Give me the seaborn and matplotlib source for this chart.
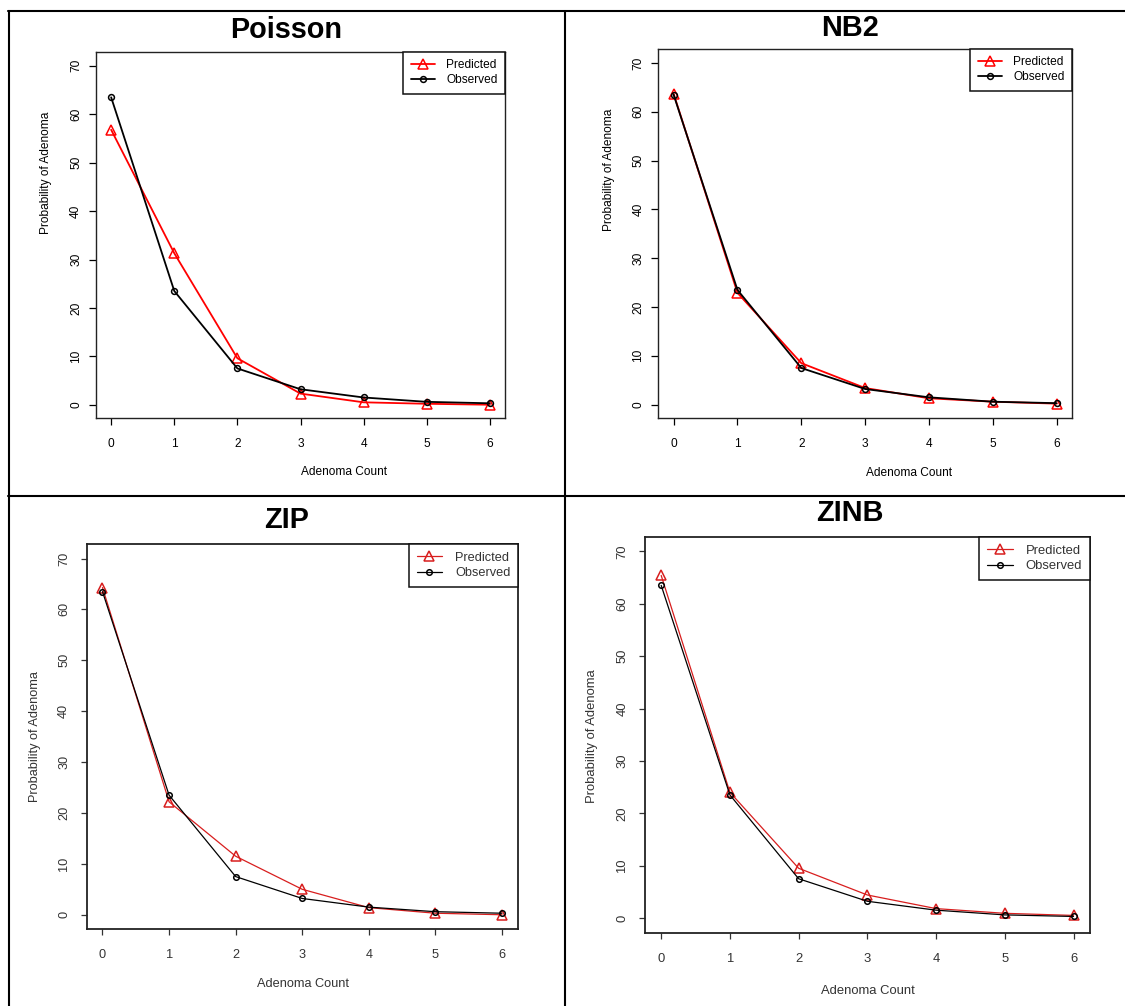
import matplotlib
matplotlib.use("Agg")
import matplotlib.pyplot as plt
from matplotlib.lines import Line2D
import seaborn as sns
import pandas as pd

sns.set_style("white")
plt.rcParams["font.family"] = ["Liberation Sans", "DejaVu Sans"]

# ---------------- data ----------------
counts = [0, 1, 2, 3, 4, 5, 6]
observed = [63.5, 23.5, 7.5, 3.2, 1.5, 0.6, 0.3]
poisson_pred = [56.8, 31.3, 9.6, 2.3, 0.5, 0.2, 0.0]
nb2_pred = [63.7, 22.9, 8.5, 3.4, 1.3, 0.6, 0.2]
zip_pred = [64.3, 22.2, 11.5, 5.0, 1.4, 0.3, 0.0]
zinb_pred = [65.4, 24.0, 9.5, 4.4, 1.8, 0.9, 0.5]
titles = ["Poisson", "NB2", "ZIP", "ZINB"]
y_ticks = [0, 10, 20, 30, 40, 50, 60, 70]
x_label = "Adenoma Count"
y_label = "Probability of Adenoma"
legend_labels = ["Predicted", "Observed"]

W, H = 1125, 1006
fig = plt.figure(figsize=(W / 100, H / 100), dpi=100)


def fx(x):
    return x / W


def fy(y):
    return 1 - y / H


# layout in pixels: axes box (l, t, r, b), title center, xlabel center, ylabel center
layouts = [
    dict(box=(96, 52.3, 505, 418.3), title=(286, 30), xl=(344, 472), yl=(46, 172.5),
         fs=8.6, xpad=9, ypad=5, lw=1.3, red="#ff0000", txt="#000000", boxlw=1.0, tl=5,
         tri=7.0, circ=4.2),
    dict(box=(658.3, 49.3, 1072, 418.3), title=(850, 28.3), xl=(909, 472.7), yl=(609, 170),
         fs=8.6, xpad=9, ypad=5, lw=1.3, red="#ff0000", txt="#000000", boxlw=1.0, tl=5,
         tri=7.0, circ=4.2),
    dict(box=(86.5, 544.3, 518, 929), title=(286.5, 520), xl=(303, 984), yl=(35, 736.7),
         fs=9.2, xpad=10, ypad=7.5, lw=0.9, red="#d81e1e", txt="#333333", boxlw=1.3, tl=4.3,
         tri=7.0, circ=4.0),
    dict(box=(644.7, 536.7, 1090, 932.7), title=(849.7, 513.3), xl=(868, 990.7), yl=(591.7, 735.8),
         fs=9.4, xpad=10, ypad=7.5, lw=0.9, red="#d81e1e", txt="#333333", boxlw=1.3, tl=4.3,
         tri=7.0, circ=4.0),
]
preds = [poisson_pred, nb2_pred, zip_pred, zinb_pred]

for title, pred, L in zip(titles, preds, layouts):
    l, t, r, b = L["box"]
    ax = fig.add_axes([fx(l), fy(b), fx(r) - fx(l), fy(t) - fy(b)])
    df = pd.DataFrame({"count": counts, "pred": pred, "obs": observed})
    sns.lineplot(data=df, x="count", y="pred", ax=ax, color=L["red"], lw=L["lw"],
                 marker="^", markersize=L["tri"], mfc="none", mec=L["red"], mew=1.1,
                 label=legend_labels[0])
    sns.lineplot(data=df, x="count", y="obs", ax=ax, color="black", lw=L["lw"],
                 marker="o", markersize=L["circ"], mfc="none", mec="black", mew=1.1,
                 label=legend_labels[1])
    ax.set_xlim(-0.24, 6.24)
    ax.set_ylim(-2.8, 72.8)
    ax.set_xticks(counts)
    ax.set_yticks(y_ticks)
    ax.tick_params(axis="both", direction="out", length=L["tl"], width=0.9,
                   colors=L["txt"], labelsize=L["fs"], bottom=True, left=True)
    ax.tick_params(axis="x", pad=L["xpad"])
    ax.tick_params(axis="y", pad=L["ypad"])
    for lab in ax.get_yticklabels():
        lab.set_rotation(90)
        lab.set_va("center")
    for s in ax.spines.values():
        s.set_visible(True)
        s.set_color("#222222")
        s.set_linewidth(L["boxlw"])
    ax.set_xlabel(x_label, fontsize=L["fs"], color=L["txt"])
    ax.set_ylabel(y_label, fontsize=L["fs"], color=L["txt"])
    ax.xaxis.set_label_coords((L["xl"][0] - l) / (r - l), (b - L["xl"][1]) / (b - t))
    ax.yaxis.set_label_coords((L["yl"][0] - l) / (r - l), (b - L["yl"][1]) / (b - t))
    ax.xaxis.label.set_va("center")
    ax.yaxis.label.set_va("center")
    ax.grid(False)
    leg = ax.legend(loc="upper right", bbox_to_anchor=(1, 1), borderaxespad=0,
                    fontsize=L["fs"], frameon=True, fancybox=False, framealpha=1,
                    edgecolor="#111111", handlelength=2.0, handletextpad=1.0,
                    borderpad=0.6, labelspacing=0.25)
    leg.get_frame().set_linewidth(1.1)
    for txt in leg.get_texts():
        txt.set_color(L["txt"])
    fig.text(fx(L["title"][0]), fy(L["title"][1]), title, ha="center", va="center",
             fontsize=20.8, fontweight="bold", color="black")

# panel frame lines
lw_frame = 1.5
fig.add_artist(Line2D([fx(8), fx(W)], [fy(11), fy(11)], transform=fig.transFigure, color="black", lw=lw_frame))
fig.add_artist(Line2D([fx(9), fx(9)], [fy(11), fy(H)], transform=fig.transFigure, color="black", lw=lw_frame))
fig.add_artist(Line2D([fx(565), fx(565)], [fy(11), fy(H)], transform=fig.transFigure, color="black", lw=lw_frame))
fig.add_artist(Line2D([fx(8), fx(W)], [fy(495.5), fy(495.5)], transform=fig.transFigure, color="black", lw=lw_frame))

fig.savefig("out.png", dpi=100)
